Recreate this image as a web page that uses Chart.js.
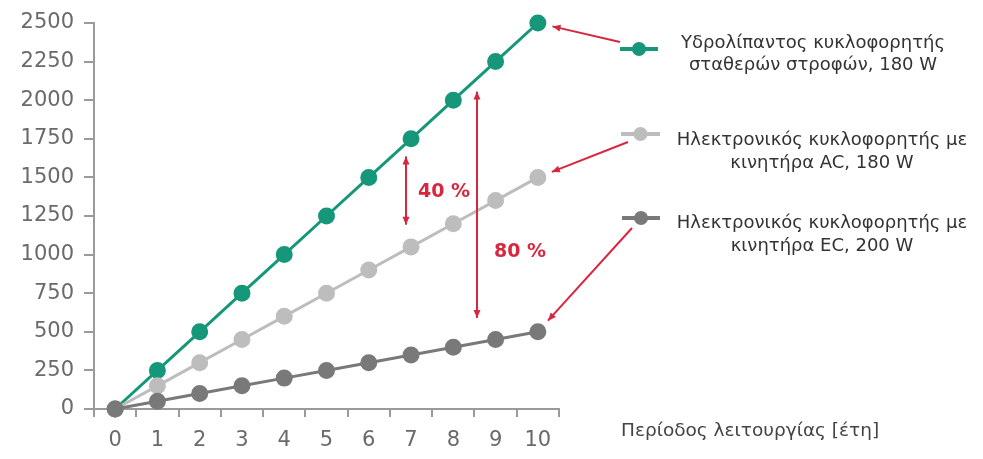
<!DOCTYPE html>
<html lang="el">
<head>
<meta charset="utf-8">
<title>Κατανάλωση ενέργειας κυκλοφορητών</title>
<script src="https://cdn.jsdelivr.net/npm/chart.js@4.4.1/dist/chart.umd.min.js"></script>
<style>
  html, body { margin: 0; padding: 0; background: #fff; }
  #wrap { width: 983px; height: 459px; position: relative; }
</style>
</head>
<body>
<div id="wrap"><canvas id="pumpChart"></canvas></div>
<script>
// years of operation and cumulative energy per pump type
const years = ["0", "1", "2", "3", "4", "5", "6", "7", "8", "9", "10"];
const fixedSpeedPump = [0, 250, 500, 750, 1000, 1250, 1500, 1750, 2000, 2250, 2500];
const acPump = [0, 150, 300, 450, 600, 750, 900, 1050, 1200, 1350, 1500];
const ecPump = [0, 50, 100, 150, 200, 250, 300, 350, 400, 450, 500];

const seriesNames = [
  ["Υδρολίπαντος κυκλοφορητής", "σταθερών στροφών, 180 W"],
  ["Ηλεκτρονικός κυκλοφορητής με", "κινητήρα AC, 180 W"],
  ["Ηλεκτρονικός κυκλοφορητής με", "κινητήρα EC, 200 W"]
];
const savingLabels = ["40 %", "80 %"];
const xTitle = "Περίοδος λειτουργίας [έτη]";

const GREEN = "#16977a";
const LIGHT = "#bdbdbd";
const DARK = "#797979";
const RED = "#d9263f";
const FONT = "'DejaVu Sans', Verdana, sans-serif";

function arrowHead(ctx, x, y, angle, len, half) {
  ctx.save();
  ctx.translate(x, y);
  ctx.rotate(angle);
  ctx.beginPath();
  ctx.moveTo(0, 0);
  ctx.lineTo(-len, -half);
  ctx.lineTo(-len, half);
  ctx.closePath();
  ctx.fill();
  ctx.restore();
}

function arrow(ctx, x1, y1, x2, y2, both) {
  const a = Math.atan2(y2 - y1, x2 - x1);
  ctx.beginPath();
  ctx.moveTo(x1, y1);
  ctx.lineTo(x2, y2);
  ctx.stroke();
  arrowHead(ctx, x2, y2, a, 8, 3.5);
  if (both) arrowHead(ctx, x1, y1, a + Math.PI, 8, 3.5);
}

// legend rows, pointer arrows and the savings markers
const extras = {
  id: "extras",
  afterDatasetsDraw(chart) {
    const ctx = chart.ctx;
    const xs = chart.scales.x;
    const ys = chart.scales.y;
    const colors = [GREEN, LIGHT, DARK];
    const rows = [
      { y: 49, x1: 620, x2: 658, from: [620, 42], tx: 813, ty: [43, 65] },
      { y: 134, x1: 621, x2: 660, from: [628, 142], tx: 822, ty: [140, 163] },
      { y: 218, x1: 622, x2: 660, from: [632, 228], tx: 822, ty: [223, 246] }
    ];

    ctx.save();
    rows.forEach((row, i) => {
      // marker
      ctx.strokeStyle = colors[i];
      ctx.fillStyle = colors[i];
      ctx.lineWidth = 4;
      ctx.beginPath();
      ctx.moveTo(row.x1, row.y);
      ctx.lineTo(row.x2, row.y);
      ctx.stroke();
      ctx.beginPath();
      ctx.arc((row.x1 + row.x2) / 2, row.y, 7, 0, Math.PI * 2);
      ctx.fill();

      // text
      ctx.fillStyle = "#333";
      ctx.font = "18px " + FONT;
      ctx.textAlign = "center";
      ctx.textBaseline = "middle";
      ctx.fillText(seriesNames[i][0], row.tx, row.ty[0]);
      ctx.fillText(seriesNames[i][1], row.tx, row.ty[1]);

      // pointer arrow to last point of the series
      const meta = chart.getDatasetMeta(i);
      const pt = meta.data[meta.data.length - 1];
      const dx = row.from[0] - pt.x;
      const dy = row.from[1] - pt.y;
      const d = Math.hypot(dx, dy);
      ctx.strokeStyle = RED;
      ctx.fillStyle = RED;
      ctx.lineWidth = 2;
      arrow(ctx, row.from[0], row.from[1], pt.x + dx / d * 15, pt.y + dy / d * 15, false);
    });

    // savings markers between the series
    const lerp = (arr, t) => {
      const i = Math.floor(t);
      return arr[i] + (arr[i + 1] - arr[i]) * (t - i);
    };
    const savings = [
      { at: 6.88, top: fixedSpeedPump, bottom: acPump, textDx: 12, textY: 1405 },
      { at: 8.56, top: fixedSpeedPump, bottom: ecPump, textDx: 17, textY: 1017 }
    ];
    savings.forEach((s, i) => {
      const x = xs.getPixelForValue(s.at);
      const yTop = ys.getPixelForValue(lerp(s.top, s.at)) + 13;
      const yBot = ys.getPixelForValue(lerp(s.bottom, s.at)) - 25;
      ctx.strokeStyle = RED;
      ctx.fillStyle = RED;
      ctx.lineWidth = 2;
      arrow(ctx, x, yTop, x, yBot, true);
      ctx.font = "bold 19px " + FONT;
      ctx.textAlign = "left";
      ctx.textBaseline = "middle";
      ctx.fillText(savingLabels[i], x + s.textDx, ys.getPixelForValue(s.textY));
    });

    // x axis title, right of the axis
    ctx.fillStyle = "#444";
    ctx.font = "18.5px " + FONT;
    ctx.textAlign = "left";
    ctx.textBaseline = "middle";
    ctx.fillText(xTitle, 621, 431);
    ctx.restore();
  }
};

new Chart(document.getElementById("pumpChart"), {
  type: "line",
  data: {
    labels: years,
    datasets: [
      {
        label: seriesNames[0].join(" "),
        data: fixedSpeedPump,
        borderColor: GREEN,
        backgroundColor: GREEN,
        borderWidth: 3,
        pointRadius: 7,
        pointHoverRadius: 7,
        order: 2
      },
      {
        label: seriesNames[1].join(" "),
        data: acPump,
        borderColor: LIGHT,
        backgroundColor: LIGHT,
        borderWidth: 3,
        pointRadius: 7,
        pointHoverRadius: 7,
        order: 1
      },
      {
        label: seriesNames[2].join(" "),
        data: ecPump,
        borderColor: DARK,
        backgroundColor: DARK,
        borderWidth: 3,
        pointRadius: 7,
        pointHoverRadius: 7,
        order: 0
      }
    ]
  },
  options: {
    responsive: true,
    maintainAspectRatio: false,
    animation: false,
    clip: false,
    layout: {
      padding: { top: 23, right: 424, bottom: 0, left: 0 }
    },
    plugins: {
      legend: { display: false },
      tooltip: { enabled: false }
    },
    scales: {
      x: {
        offset: true,
        afterFit(scale) { scale.height = 50; },
        border: { color: "#9a9a9a", width: 2 },
        grid: {
          offset: true,
          drawOnChartArea: false,
          drawTicks: true,
          tickLength: 8,
          color: "#9a9a9a",
          lineWidth: 2
        },
        ticks: {
          color: "#6a6a6a",
          padding: 11,
          maxRotation: 0,
          font: { family: FONT, size: 21 }
        }
      },
      y: {
        min: 0,
        max: 2500,
        afterFit(scale) { scale.width = 94; },
        border: { color: "#9a9a9a", width: 2 },
        grid: {
          drawOnChartArea: false,
          drawTicks: true,
          tickLength: 10,
          color: "#9a9a9a",
          lineWidth: 2
        },
        ticks: {
          stepSize: 250,
          color: "#6a6a6a",
          padding: 10,
          font: { family: FONT, size: 21 },
          callback: (value) => String(value)
        }
      }
    }
  },
  plugins: [extras]
});
</script>
</body>
</html>
